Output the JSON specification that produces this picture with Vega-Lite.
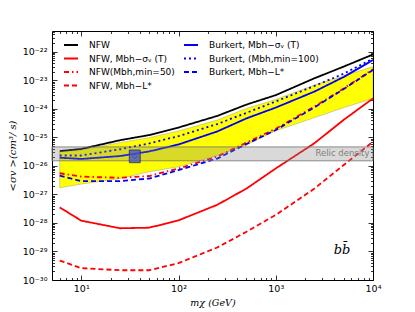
{
  "$schema": "https://vega.github.io/schema/vega-lite/v6.json",
  "width": 321,
  "height": 249,
  "autosize": "none",
  "padding": {"left": 52, "top": 31, "right": 42, "bottom": 32},
  "background": "white",
  "config": {
    "view": {"stroke": "black", "strokeWidth": 1},
    "font": "DejaVu Sans",
    "axis": {"domain": false, "grid": false, "tickColor": "black", "tickWidth": 0.8, "labelColor": "black", "labelFont": "DejaVu Sans", "labelFontSize": 9.5, "labelOverlap": false, "labelFlush": false},
    "legend": {"orient": "none", "legendX": 11, "legendY": 6, "columns": 2, "columnPadding": 5, "rowPadding": 0.5, "labelFont": "DejaVu Sans", "labelFontSize": 9, "labelColor": "black", "labelOffset": 10, "symbolSize": 196, "symbolStrokeWidth": 1.8, "symbolType": "stroke", "padding": 0, "labelLimit": 200}
  },
  "datasets": {
    "band": [
      {"m": 6, "lo": 1.71e-27, "hi": 3.1e-26},
      {"m": 10, "lo": 2.3e-27, "hi": 3.6e-26},
      {"m": 25, "lo": 3.6e-27, "hi": 6.5e-26},
      {"m": 50, "lo": 6.2e-27, "hi": 9.7e-26},
      {"m": 100, "lo": 9.3e-27, "hi": 1.66e-25},
      {"m": 250, "lo": 2.3e-26, "hi": 4.0e-25},
      {"m": 500, "lo": 5.4e-26, "hi": 1.03e-24},
      {"m": 1000, "lo": 1.7e-25, "hi": 2.1e-24},
      {"m": 2500, "lo": 4.9e-25, "hi": 6.8e-24},
      {"m": 5000, "lo": 1.1e-24, "hi": 1.4e-23},
      {"m": 10000, "lo": 2.3e-24, "hi": 3.0e-23}
    ],
    "lines": [
      {"series": "NFW, Mbh−L*", "m": 6, "sv": 4.8e-30},
      {"series": "NFW, Mbh−L*", "m": 10, "sv": 2.6e-30},
      {"series": "NFW, Mbh−L*", "m": 25, "sv": 2.2e-30},
      {"series": "NFW, Mbh−L*", "m": 50, "sv": 2.2e-30},
      {"series": "NFW, Mbh−L*", "m": 100, "sv": 3.9e-30},
      {"series": "NFW, Mbh−L*", "m": 250, "sv": 1.38e-29},
      {"series": "NFW, Mbh−L*", "m": 500, "sv": 4.9e-29},
      {"series": "NFW, Mbh−L*", "m": 1000, "sv": 1.9e-28},
      {"series": "NFW, Mbh−L*", "m": 2500, "sv": 1.6e-27},
      {"series": "NFW, Mbh−L*", "m": 5000, "sv": 1.07e-26},
      {"series": "NFW, Mbh−L*", "m": 10000, "sv": 7.0e-26},
      {"series": "NFW, Mbh−σᵥ (T)", "m": 6, "sv": 3.5e-28},
      {"series": "NFW, Mbh−σᵥ (T)", "m": 10, "sv": 1.2e-28},
      {"series": "NFW, Mbh−σᵥ (T)", "m": 25, "sv": 6.5e-29},
      {"series": "NFW, Mbh−σᵥ (T)", "m": 50, "sv": 6.8e-29},
      {"series": "NFW, Mbh−σᵥ (T)", "m": 100, "sv": 1.23e-28},
      {"series": "NFW, Mbh−σᵥ (T)", "m": 250, "sv": 4.3e-28},
      {"series": "NFW, Mbh−σᵥ (T)", "m": 500, "sv": 1.6e-27},
      {"series": "NFW, Mbh−σᵥ (T)", "m": 1000, "sv": 8.1e-27},
      {"series": "NFW, Mbh−σᵥ (T)", "m": 2500, "sv": 6.2e-26},
      {"series": "NFW, Mbh−σᵥ (T)", "m": 5000, "sv": 4.1e-25},
      {"series": "NFW, Mbh−σᵥ (T)", "m": 10000, "sv": 2.3e-24},
      {"series": "NFW(Mbh,min=50)", "m": 6, "sv": 5.5e-27},
      {"series": "NFW(Mbh,min=50)", "m": 10, "sv": 4.2e-27},
      {"series": "NFW(Mbh,min=50)", "m": 25, "sv": 3.8e-27},
      {"series": "NFW(Mbh,min=50)", "m": 50, "sv": 4.4e-27},
      {"series": "NFW(Mbh,min=50)", "m": 100, "sv": 8.1e-27},
      {"series": "NFW(Mbh,min=50)", "m": 250, "sv": 2.1e-26},
      {"series": "NFW(Mbh,min=50)", "m": 500, "sv": 6.5e-26},
      {"series": "NFW(Mbh,min=50)", "m": 1000, "sv": 2.0e-25},
      {"series": "NFW(Mbh,min=50)", "m": 2500, "sv": 1.2e-24},
      {"series": "NFW(Mbh,min=50)", "m": 5000, "sv": 5.1e-24},
      {"series": "NFW(Mbh,min=50)", "m": 10000, "sv": 2.4e-23},
      {"series": "Burkert, Mbh−L*", "m": 6, "sv": 4.5e-27},
      {"series": "Burkert, Mbh−L*", "m": 10, "sv": 2.9e-27},
      {"series": "Burkert, Mbh−L*", "m": 25, "sv": 2.9e-27},
      {"series": "Burkert, Mbh−L*", "m": 50, "sv": 3.6e-27},
      {"series": "Burkert, Mbh−L*", "m": 100, "sv": 7.1e-27},
      {"series": "Burkert, Mbh−L*", "m": 250, "sv": 1.8e-26},
      {"series": "Burkert, Mbh−L*", "m": 500, "sv": 5.8e-26},
      {"series": "Burkert, Mbh−L*", "m": 1000, "sv": 1.8e-25},
      {"series": "Burkert, Mbh−L*", "m": 2500, "sv": 1.12e-24},
      {"series": "Burkert, Mbh−L*", "m": 5000, "sv": 4.9e-24},
      {"series": "Burkert, Mbh−L*", "m": 10000, "sv": 2.3e-23},
      {"series": "Burkert, Mbh−σᵥ (T)", "m": 6, "sv": 1.93e-26},
      {"series": "Burkert, Mbh−σᵥ (T)", "m": 10, "sv": 1.74e-26},
      {"series": "Burkert, Mbh−σᵥ (T)", "m": 25, "sv": 2.2e-26},
      {"series": "Burkert, Mbh−σᵥ (T)", "m": 50, "sv": 3.2e-26},
      {"series": "Burkert, Mbh−σᵥ (T)", "m": 100, "sv": 5.6e-26},
      {"series": "Burkert, Mbh−σᵥ (T)", "m": 250, "sv": 1.6e-25},
      {"series": "Burkert, Mbh−σᵥ (T)", "m": 500, "sv": 4.6e-25},
      {"series": "Burkert, Mbh−σᵥ (T)", "m": 1000, "sv": 1.1e-24},
      {"series": "Burkert, Mbh−σᵥ (T)", "m": 2500, "sv": 4.0e-24},
      {"series": "Burkert, Mbh−σᵥ (T)", "m": 5000, "sv": 1.3e-23},
      {"series": "Burkert, Mbh−σᵥ (T)", "m": 10000, "sv": 5.1e-23},
      {"series": "Burkert, (Mbh,min=100)", "m": 6, "sv": 2.3e-26},
      {"series": "Burkert, (Mbh,min=100)", "m": 10, "sv": 2.3e-26},
      {"series": "Burkert, (Mbh,min=100)", "m": 25, "sv": 3.8e-26},
      {"series": "Burkert, (Mbh,min=100)", "m": 50, "sv": 6.1e-26},
      {"series": "Burkert, (Mbh,min=100)", "m": 100, "sv": 1.1e-25},
      {"series": "Burkert, (Mbh,min=100)", "m": 250, "sv": 2.9e-25},
      {"series": "Burkert, (Mbh,min=100)", "m": 500, "sv": 7.2e-25},
      {"series": "Burkert, (Mbh,min=100)", "m": 1000, "sv": 1.8e-24},
      {"series": "Burkert, (Mbh,min=100)", "m": 2500, "sv": 6.3e-24},
      {"series": "Burkert, (Mbh,min=100)", "m": 5000, "sv": 1.7e-23},
      {"series": "Burkert, (Mbh,min=100)", "m": 10000, "sv": 5.7e-23},
      {"series": "NFW", "m": 6, "sv": 3.3e-26},
      {"series": "NFW", "m": 10, "sv": 3.9e-26},
      {"series": "NFW", "m": 25, "sv": 7.9e-26},
      {"series": "NFW", "m": 50, "sv": 1.2e-25},
      {"series": "NFW", "m": 100, "sv": 2.2e-25},
      {"series": "NFW", "m": 250, "sv": 5.6e-25},
      {"series": "NFW", "m": 500, "sv": 1.4e-24},
      {"series": "NFW", "m": 1000, "sv": 3.0e-24},
      {"series": "NFW", "m": 2500, "sv": 1.17e-23},
      {"series": "NFW", "m": 5000, "sv": 3.0e-23},
      {"series": "NFW", "m": 10000, "sv": 8.0e-23}
    ]
  },
  "layer": [
    {
      "data": {"name": "band"},
      "mark": {"type": "area", "fill": "#ffff00", "stroke": "#b0b070", "strokeWidth": 0.6, "clip": true},
      "encoding": {
        "x": {"field": "m", "type": "quantitative", "scale": {"type": "log", "domain": [5, 10000], "nice": false},
          "axis": {"orient": "bottom",
            "values": [6,7,8,9,10,20,30,40,50,60,70,80,90,100,200,300,400,500,600,700,800,900,1000,2000,3000,4000,5000,6000,7000,8000,9000,10000],
            "labelExpr": "abs(log(datum.value)/LN10 - round(log(datum.value)/LN10)) < 0.001 ? ['10¹','10²','10³','10⁴'][round(log(datum.value)/LN10)-1] : ''",
            "tickSize": {"condition": {"test": "abs(log(datum.value)/LN10 - round(log(datum.value)/LN10)) < 0.001", "value": -5}, "value": -2.5},
            "labelPadding": 8,
            "title": "mχ (GeV)", "titleFont": "DejaVu Serif", "titleFontStyle": "italic", "titleFontWeight": "normal", "titleFontSize": 9.5, "titlePadding": 2}},
        "y": {"field": "lo", "type": "quantitative", "scale": {"type": "log", "domain": [1e-30, 5.3e-22], "nice": false},
          "axis": {"orient": "left",
            "values": [1e-30,2e-30,3e-30,4e-30,5e-30,6e-30,7e-30,8e-30,9e-30,1e-29,2e-29,3e-29,4e-29,5e-29,6e-29,7e-29,8e-29,9e-29,1e-28,2e-28,3e-28,4e-28,5e-28,6e-28,7e-28,8e-28,9e-28,1e-27,2e-27,3e-27,4e-27,5e-27,6e-27,7e-27,8e-27,9e-27,1e-26,2e-26,3e-26,4e-26,5e-26,6e-26,7e-26,8e-26,9e-26,1e-25,2e-25,3e-25,4e-25,5e-25,6e-25,7e-25,8e-25,9e-25,1e-24,2e-24,3e-24,4e-24,5e-24,6e-24,7e-24,8e-24,9e-24,1e-23,2e-23,3e-23,4e-23,5e-23,6e-23,7e-23,8e-23,9e-23,1e-22,2e-22,3e-22,4e-22,5e-22],
            "labelExpr": "abs(log(datum.value)/LN10 - round(log(datum.value)/LN10)) < 0.001 ? ['10⁻³⁰','10⁻²⁹','10⁻²⁸','10⁻²⁷','10⁻²⁶','10⁻²⁵','10⁻²⁴','10⁻²³','10⁻²²'][round(log(datum.value)/LN10)+30] : ''",
            "tickSize": {"condition": {"test": "abs(log(datum.value)/LN10 - round(log(datum.value)/LN10)) < 0.001", "value": -5}, "value": -2.5},
            "labelPadding": 10,
            "title": "<σv >(cm³/ s)", "titleFont": "DejaVu Serif", "titleFontStyle": "italic", "titleFontWeight": "normal", "titleFontSize": 10, "titlePadding": 5}},
        "y2": {"field": "hi"}
      }
    },
    {
      "data": {"name": "lines"},
      "mark": {"type": "line", "strokeWidth": 1.8, "clip": true},
      "encoding": {
        "x": {"field": "m", "type": "quantitative", "scale": {"type": "log", "domain": [5, 10000], "nice": false}, "axis": null},
        "y": {"field": "sv", "type": "quantitative", "scale": {"type": "log", "domain": [1e-30, 5.3e-22], "nice": false}, "axis": null},
        "color": {"field": "series", "type": "nominal",
          "scale": {"domain": ["NFW", "NFW, Mbh−σᵥ (T)", "NFW(Mbh,min=50)", "NFW, Mbh−L*", "Burkert, Mbh−σᵥ (T)", "Burkert, (Mbh,min=100)", "Burkert, Mbh−L*"],
            "range": ["#000000", "#ff0000", "#ff0000", "#ff0000", "#0000ff", "#0000ff", "#0000ff"]},
          "legend": {"title": null}},
        "strokeDash": {"field": "series", "type": "nominal",
          "scale": {"domain": ["NFW", "NFW, Mbh−σᵥ (T)", "NFW(Mbh,min=50)", "NFW, Mbh−L*", "Burkert, Mbh−σᵥ (T)", "Burkert, (Mbh,min=100)", "Burkert, Mbh−L*"],
            "range": [[1, 0], [1, 0], [5, 3, 1.5, 3], [5, 3], [1, 0], [2, 3], [5, 3]]},
          "legend": {"title": null}}
      }
    },
    {
      "data": {"values": [{"x1": 5, "x2": 10000, "y1": 1.5e-26, "y2": 4.6e-26}]},
      "mark": {"type": "rect", "fill": "#808080", "fillOpacity": 0.3, "stroke": "#707070", "strokeWidth": 1, "strokeOpacity": 0.8},
      "encoding": {
        "x": {"field": "x1", "type": "quantitative", "scale": {"type": "log", "domain": [5, 10000], "nice": false},
          "axis": {"orient": "top", "labels": false, "title": null,
            "values": [6,7,8,9,10,20,30,40,50,60,70,80,90,100,200,300,400,500,600,700,800,900,1000,2000,3000,4000,5000,6000,7000,8000,9000,10000],
            "tickSize": {"condition": {"test": "abs(log(datum.value)/LN10 - round(log(datum.value)/LN10)) < 0.001", "value": -5}, "value": -2.5}}},
        "x2": {"field": "x2"},
        "y": {"field": "y1", "type": "quantitative", "scale": {"type": "log", "domain": [1e-30, 5.3e-22], "nice": false},
          "axis": {"orient": "right", "labels": false, "title": null,
            "values": [1e-30,2e-30,3e-30,4e-30,5e-30,6e-30,7e-30,8e-30,9e-30,1e-29,2e-29,3e-29,4e-29,5e-29,6e-29,7e-29,8e-29,9e-29,1e-28,2e-28,3e-28,4e-28,5e-28,6e-28,7e-28,8e-28,9e-28,1e-27,2e-27,3e-27,4e-27,5e-27,6e-27,7e-27,8e-27,9e-27,1e-26,2e-26,3e-26,4e-26,5e-26,6e-26,7e-26,8e-26,9e-26,1e-25,2e-25,3e-25,4e-25,5e-25,6e-25,7e-25,8e-25,9e-25,1e-24,2e-24,3e-24,4e-24,5e-24,6e-24,7e-24,8e-24,9e-24,1e-23,2e-23,3e-23,4e-23,5e-23,6e-23,7e-23,8e-23,9e-23,1e-22,2e-22,3e-22,4e-22,5e-22],
            "tickSize": {"condition": {"test": "abs(log(datum.value)/LN10 - round(log(datum.value)/LN10)) < 0.001", "value": -5}, "value": -2.5}}},
        "y2": {"field": "y2"}
      }
    },
    {
      "data": {"values": [{"x1": 31.2, "x2": 40.4, "y1": 1.29e-26, "y2": 3.58e-26}]},
      "mark": {"type": "rect", "fill": "#4a55c8", "fillOpacity": 0.8, "stroke": "#2a2a70", "strokeWidth": 0.8},
      "encoding": {
        "x": {"field": "x1", "type": "quantitative", "scale": {"type": "log", "domain": [5, 10000], "nice": false}, "axis": null},
        "x2": {"field": "x2"},
        "y": {"field": "y1", "type": "quantitative", "scale": {"type": "log", "domain": [1e-30, 5.3e-22], "nice": false}, "axis": null},
        "y2": {"field": "y2"}
      }
    },
    {
      "data": {"values": [{"m": 35.5, "v": 2.15e-26}]},
      "mark": {"type": "point", "shape": "circle", "size": 14, "filled": false, "stroke": "#3a46b0", "strokeWidth": 0.8},
      "encoding": {
        "x": {"field": "m", "type": "quantitative", "scale": {"type": "log", "domain": [5, 10000], "nice": false}, "axis": null},
        "y": {"field": "v", "type": "quantitative", "scale": {"type": "log", "domain": [1e-30, 5.3e-22], "nice": false}, "axis": null}
      }
    },
    {
      "data": {"values": [{"m": 9200, "v": 2.8e-26, "t": "Relic density"}]},
      "mark": {"type": "text", "align": "right", "baseline": "middle", "font": "DejaVu Sans", "fontSize": 8.5, "fill": "#808080"},
      "encoding": {
        "x": {"field": "m", "type": "quantitative", "scale": {"type": "log", "domain": [5, 10000], "nice": false}, "axis": null},
        "y": {"field": "v", "type": "quantitative", "scale": {"type": "log", "domain": [1e-30, 5.3e-22], "nice": false}, "axis": null},
        "text": {"field": "t"}
      }
    },
    {
      "data": {"values": [{"m": 4800, "v": 1.1e-29, "t": "bb̄"}]},
      "mark": {"type": "text", "align": "center", "baseline": "middle", "font": "DejaVu Serif", "fontStyle": "italic", "fontSize": 13, "fill": "black"},
      "encoding": {
        "x": {"field": "m", "type": "quantitative", "scale": {"type": "log", "domain": [5, 10000], "nice": false}, "axis": null},
        "y": {"field": "v", "type": "quantitative", "scale": {"type": "log", "domain": [1e-30, 5.3e-22], "nice": false}, "axis": null},
        "text": {"field": "t"}
      }
    }
  ],
  "resolve": {"axis": {"x": "independent", "y": "independent"}}
}
